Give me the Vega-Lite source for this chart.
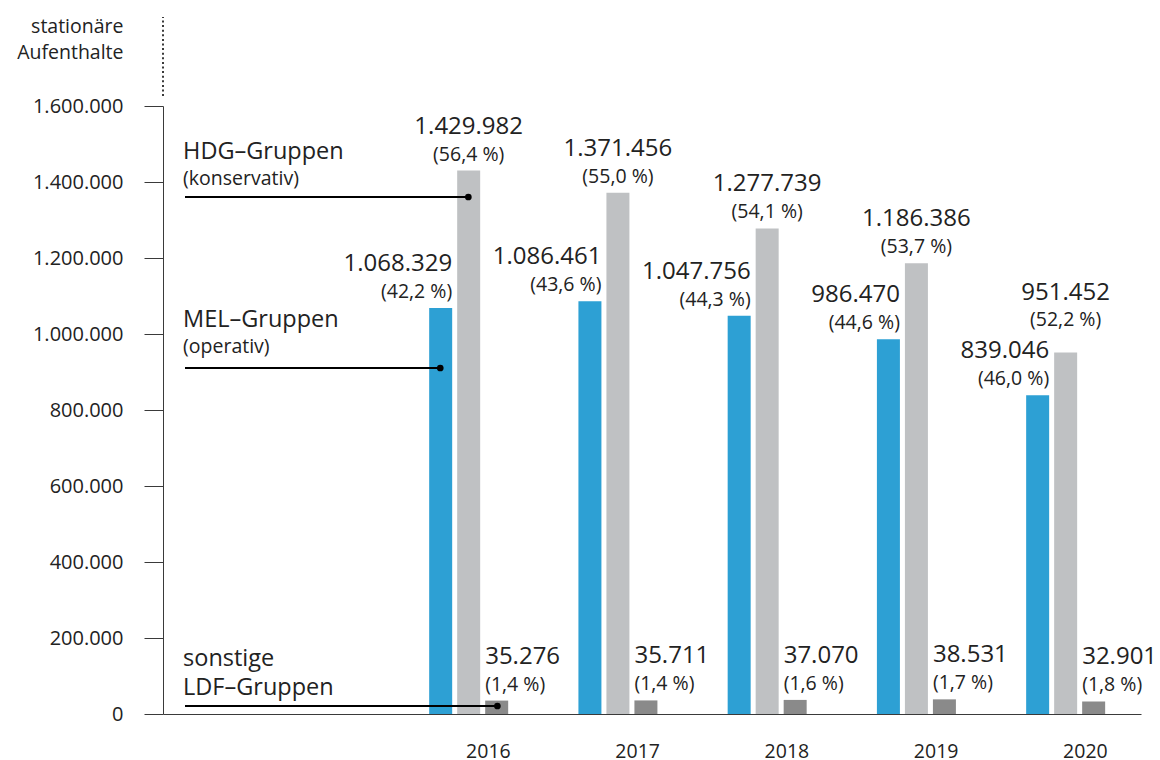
{
  "$schema": "https://vega.github.io/schema/vega-lite/v6.json",
  "width": 978,
  "height": 608,
  "autosize": "none",
  "padding": {"left": 163, "top": 106, "right": 19, "bottom": 46},
  "background": "white",
  "config": {
    "locale": {"number": {"decimal": ",", "thousands": ".", "grouping": [3], "currency": ["", " €"]}},
    "view": {"stroke": null},
    "font": "Open Sans",
    "text": {"font": "Open Sans", "fontWeight": 400, "color": "#222222"},
    "axis": {"labelFont": "Open Sans", "labelFontWeight": 400, "labelColor": "#222222", "titleFont": "Open Sans", "titleFontWeight": 400, "titleColor": "#222222", "domainColor": "#3a3a3a", "tickColor": "#3a3a3a", "grid": false}
  },
  "layer": [
    {
      "data": {
        "values": [
          {"year": "2016", "series": "MEL", "value": 1068329, "pct": 42.2},
          {"year": "2016", "series": "HDG", "value": 1429982, "pct": 56.4},
          {"year": "2016", "series": "LDF", "value": 35276, "pct": 1.4},
          {"year": "2017", "series": "MEL", "value": 1086461, "pct": 43.6},
          {"year": "2017", "series": "HDG", "value": 1371456, "pct": 55.0},
          {"year": "2017", "series": "LDF", "value": 35711, "pct": 1.4},
          {"year": "2018", "series": "MEL", "value": 1047756, "pct": 44.3},
          {"year": "2018", "series": "HDG", "value": 1277739, "pct": 54.1},
          {"year": "2018", "series": "LDF", "value": 37070, "pct": 1.6},
          {"year": "2019", "series": "MEL", "value": 986470, "pct": 44.6},
          {"year": "2019", "series": "HDG", "value": 1186386, "pct": 53.7},
          {"year": "2019", "series": "LDF", "value": 38531, "pct": 1.7},
          {"year": "2020", "series": "MEL", "value": 839046, "pct": 46.0},
          {"year": "2020", "series": "HDG", "value": 951452, "pct": 52.2},
          {"year": "2020", "series": "LDF", "value": 32901, "pct": 1.8}
        ]
      },
      "transform": [
        {"calculate": "'(' + replace(format(datum.pct, '.1f'), '.', ',') + ' %)'", "as": "pctLabel"}
      ],
      "encoding": {
        "x": {
          "field": "year", "type": "nominal",
          "scale": {"paddingInner": 0, "paddingOuter": 0.7765, "align": 1},
          "axis": {"title": null, "ticks": false, "labelAngle": 0, "labelFontSize": 19.5, "labelPadding": 28, "labelOffset": 19, "labelBaseline": "top"}
        },
        "xOffset": {
          "field": "series", "type": "nominal",
          "scale": {"domain": ["MEL", "HDG", "LDF"], "range": [34.4, 113.4], "paddingInner": 0.1786, "paddingOuter": 0}
        },
        "y": {
          "field": "value", "type": "quantitative",
          "scale": {"domain": [0, 1600000], "nice": false},
          "axis": {
            "values": [0, 200000, 400000, 600000, 800000, 1000000, 1200000, 1400000, 1600000],
            "format": ",d", "tickSize": 19, "labelPadding": 21, "labelFontSize": 20,
            "title": ["stationäre", "Aufenthalte"], "titleAngle": 0, "titleAlign": "right",
            "titleBaseline": "alphabetic", "titleX": -40, "titleY": -74, "titleFontSize": 19.5, "titleLineHeight": 26
          }
        }
      },
      "layer": [
        {
          "mark": {"type": "bar"},
          "encoding": {
            "color": {"field": "series", "type": "nominal", "scale": {"domain": ["MEL", "HDG", "LDF"], "range": ["#2da0d4", "#bfc1c3", "#8a8a8a"]}, "legend": null}
          }
        },
        {
          "transform": [{"filter": "datum.series == 'MEL'"}],
          "mark": {"type": "text", "align": "right", "baseline": "alphabetic", "dx": 11.5, "dy": -37, "fontSize": 24},
          "encoding": {"text": {"field": "value", "type": "quantitative", "format": ",d"}}
        },
        {
          "transform": [{"filter": "datum.series == 'MEL'"}],
          "mark": {"type": "text", "align": "right", "baseline": "alphabetic", "dx": 11.5, "dy": -10, "fontSize": 19.5},
          "encoding": {"text": {"field": "pctLabel", "type": "nominal"}}
        },
        {
          "transform": [{"filter": "datum.series == 'HDG' && datum.year != '2020'"}],
          "mark": {"type": "text", "align": "center", "baseline": "alphabetic", "dy": -37, "fontSize": 24},
          "encoding": {"text": {"field": "value", "type": "quantitative", "format": ",d"}}
        },
        {
          "transform": [{"filter": "datum.series == 'HDG' && datum.year != '2020'"}],
          "mark": {"type": "text", "align": "center", "baseline": "alphabetic", "dy": -10, "fontSize": 19.5},
          "encoding": {"text": {"field": "pctLabel", "type": "nominal"}}
        },
        {
          "transform": [{"filter": "datum.series == 'HDG' && datum.year == '2020'"}],
          "mark": {"type": "text", "align": "center", "baseline": "alphabetic", "dy": -52, "fontSize": 24},
          "encoding": {"text": {"field": "value", "type": "quantitative", "format": ",d"}}
        },
        {
          "transform": [{"filter": "datum.series == 'HDG' && datum.year == '2020'"}],
          "mark": {"type": "text", "align": "center", "baseline": "alphabetic", "dy": -26, "fontSize": 19.5},
          "encoding": {"text": {"field": "pctLabel", "type": "nominal"}}
        },
        {
          "transform": [{"filter": "datum.series == 'LDF'"}],
          "mark": {"type": "text", "align": "left", "baseline": "alphabetic", "dx": -11.5, "dy": -37, "fontSize": 24},
          "encoding": {"text": {"field": "value", "type": "quantitative", "format": ",d"}}
        },
        {
          "transform": [{"filter": "datum.series == 'LDF'"}],
          "mark": {"type": "text", "align": "left", "baseline": "alphabetic", "dx": -11.5, "dy": -10, "fontSize": 19.5},
          "encoding": {"text": {"field": "pctLabel", "type": "nominal"}}
        }
      ]
    },
    {
      "layer": [
        {
          "data": {"values": [{"from": 1626000, "to": 1834000}]},
          "mark": {"type": "rule", "strokeDash": [2, 2.6], "strokeWidth": 2, "color": "#3a3a3a"},
          "encoding": {
            "x": {"datum": 0, "type": "quantitative", "scale": {"domain": [0, 1], "nice": false, "zero": false}, "axis": null},
            "y": {"field": "from", "type": "quantitative", "axis": null},
            "y2": {"field": "to"}
          }
        },
        {
          "data": {
            "values": [
              {"group": "HDG", "level": 1360500, "start": 0.0225, "end": 0.3122},
              {"group": "MEL", "level": 910500, "start": 0.0225, "end": 0.2835},
              {"group": "LDF", "level": 21050, "start": 0.0225, "end": 0.3419}
            ]
          },
          "layer": [
            {
              "mark": {"type": "rule", "strokeWidth": 2, "color": "#000000"},
              "encoding": {
                "x": {"field": "start", "type": "quantitative", "scale": {"domain": [0, 1], "nice": false, "zero": false}, "axis": null},
                "x2": {"field": "end"},
                "y": {"field": "level", "type": "quantitative", "axis": null}
              }
            },
            {
              "mark": {"type": "point", "filled": true, "size": 45, "opacity": 1, "color": "#000000"},
              "encoding": {
                "x": {"field": "end", "type": "quantitative", "axis": null},
                "y": {"field": "level", "type": "quantitative", "axis": null}
              }
            }
          ]
        },
        {
          "data": {
            "values": [
              {"label": "HDG–Gruppen", "at": 1460500},
              {"label": "MEL–Gruppen", "at": 1018400},
              {"label": "sonstige", "at": 126300},
              {"label": "LDF–Gruppen", "at": 50000}
            ]
          },
          "mark": {"type": "text", "align": "left", "baseline": "alphabetic", "fontSize": 23.5},
          "encoding": {
            "x": {"datum": 0.0205, "type": "quantitative", "axis": null},
            "y": {"field": "at", "type": "quantitative", "axis": null},
            "text": {"field": "label", "type": "nominal"}
          }
        },
        {
          "data": {
            "values": [
              {"label": "(konservativ)", "at": 1392000},
              {"label": "(operativ)", "at": 950000}
            ]
          },
          "mark": {"type": "text", "align": "left", "baseline": "alphabetic", "fontSize": 19.5},
          "encoding": {
            "x": {"datum": 0.0205, "type": "quantitative", "axis": null},
            "y": {"field": "at", "type": "quantitative", "axis": null},
            "text": {"field": "label", "type": "nominal"}
          }
        }
      ]
    }
  ],
  "resolve": {"scale": {"x": "independent"}, "axis": {"y": "independent"}}
}
